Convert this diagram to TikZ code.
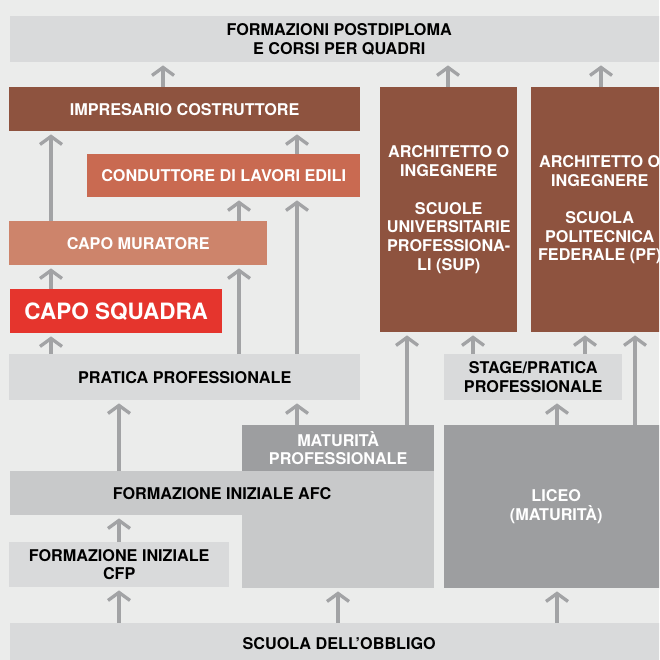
\documentclass[tikz,border=0pt]{standalone}
\usepackage{fontspec}
\setmainfont{TeX Gyre Heros}
\usetikzlibrary{arrows.meta}
\definecolor{bgc}{HTML}{EBECEB}
\definecolor{lightc}{HTML}{D9DADB}
\definecolor{midc}{HTML}{C8C9CA}
\definecolor{darkc}{HTML}{9D9EA0}
\definecolor{arrc}{HTML}{A2A3A5}
\definecolor{brownc}{HTML}{8E533F}
\definecolor{condc}{HTML}{C96A51}
\definecolor{murc}{HTML}{CD846B}
\definecolor{redc}{HTML}{E5352D}
\tikzset{
    box/.style = {rectangle, inner sep=0pt, anchor=north west, align=center,
        font=\bfseries\fontsize{16.2}{18.7}\selectfont},
    lightbox/.style = {box, fill=lightc, text=black},
    midbox/.style = {box, fill=midc, text=black},
    darkbox/.style = {box, fill=darkc, text=white},
    brownbox/.style = {box, fill=brownc, text=white},
    size/.style 2 args = {minimum width=#1pt, minimum height=#2pt},
    up/.style = {draw=arrc, line width=3.3pt, shorten >=3pt,
        -{Straight Barb[length=8pt,width=22pt]}}
}

\begin{document}
\begin{tikzpicture}[x=1pt, y=-1pt]
    \useasboundingbox (0,0) rectangle (659,660);
    \clip (0,0) rectangle (659,660);
    \fill[bgc] (0,0) rectangle (659,660);
    % top row
    \node [lightbox, size={658}{46}] (post) at (10,16) {FORMAZIONI POSTDIPLOMA\\E CORSI PER QUADRI};
    \node [brownbox, size={351}{44}] (imp) at (9,87) {IMPRESARIO COSTRUTTORE};
    \node [brownbox, size={137}{245}] (arch1) at (380,87) {ARCHITETTO O\\INGEGNERE\\[18.7pt]SCUOLE\\UNIVERSITARIE\\PROFESSIONA-\\LI (SUP)};
    \node [brownbox, size={137}{245}] (arch2) at (531,87) {ARCHITETTO O\\INGEGNERE\\[18.7pt]SCUOLA\\POLITECNICA\\FEDERALE (PF)};
    % careers
    \node [box, fill=condc, text=white, size={273}{43}] (cond) at (87,154) {CONDUTTORE DI LAVORI EDILI};
    \node [box, fill=murc, text=white, size={258}{44}] (mur) at (9,221) {CAPO MURATORE};
    \node [box, fill=redc, text=white, size={212}{44}, font=\bfseries\fontsize{22.5}{24}\selectfont] (squ) at (10,289) {CAPO SQUADRA};
    \node [lightbox, size={351}{46}] (pra) at (9,354) {PRATICA PROFESSIONALE};
    \node [lightbox, size={178}{46}] (stage) at (444,354) {STAGE/PRATICA\\PROFESSIONALE};
    % schools
    \node [midbox, size={192}{117}] (afcx) at (242,471) {};
    \node [midbox, size={424}{44}] (afc) at (10,471) {FORMAZIONE INIZIALE AFC};
    \node [darkbox, size={192}{46}] (mat) at (242,425) {MATURITÀ\\PROFESSIONALE};
    \node [darkbox, size={224}{163}] (liceo) at (444,425) {LICEO\\(MATURITÀ)};
    \node [lightbox, size={220}{45}] (cfp) at (9,542) {FORMAZIONE INIZIALE\\CFP};
    \node [lightbox, size={658}{40}] (scuola) at (10,623) {SCUOLA DELL’OBBLIGO};
    % arrow columns
    \coordinate (x51) at (51,0);
    \coordinate (x119) at (119,0);
    \coordinate (x163) at (163,0);
    \coordinate (x239) at (239,0);
    \coordinate (x297) at (297,0);
    \coordinate (x338) at (338,0);
    \coordinate (x407) at (407,0);
    \coordinate (x448) at (448,0);
    \coordinate (x473) at (473,0);
    \coordinate (x557) at (557,0);
    \coordinate (x585) at (585,0);
    \coordinate (x601) at (601,0);
    \coordinate (x635) at (635,0);
    % arrows
    \draw [up] (imp.north -| x163) -- (post.south -| x163);
    \draw [up] (arch1.north -| x448) -- (post.south -| x448);
    \draw [up] (arch2.north -| x601) -- (post.south -| x601);
    \draw [up] (mur.north -| x51) -- (imp.south -| x51);
    \draw [up] (cond.north -| x297) -- (imp.south -| x297);
    \draw [up] (mur.north -| x239) -- (cond.south -| x239);
    \draw [up] (pra.north -| x297) -- (cond.south -| x297);
    \draw [up] (squ.north -| x51) -- (mur.south -| x51);
    \draw [up] (pra.north -| x239) -- (mur.south -| x239);
    \draw [up] (pra.north -| x51) -- (squ.south -| x51);
    \draw [up] (afc.north -| x119) -- (pra.south -| x119);
    \draw [up] (mat.north -| x297) -- (pra.south -| x297);
    \draw [up] (mat.north -| x407) -- (arch1.south -| x407);
    \draw [up] (stage.north -| x473) -- (arch1.south -| x473);
    \draw [up] (stage.north -| x585) -- (arch2.south -| x585);
    \draw [up] (liceo.north -| x635) -- (arch2.south -| x635);
    \draw [up] (liceo.north -| x557) -- (stage.south -| x557);
    \draw [up] (cfp.north -| x119) -- (afc.south -| x119);
    \draw [up] (scuola.north -| x119) -- (cfp.south -| x119);
    \draw [up] (scuola.north -| x338) -- (afcx.south -| x338);
    \draw [up] (scuola.north -| x557) -- (liceo.south -| x557);
\end{tikzpicture}
\end{document}
